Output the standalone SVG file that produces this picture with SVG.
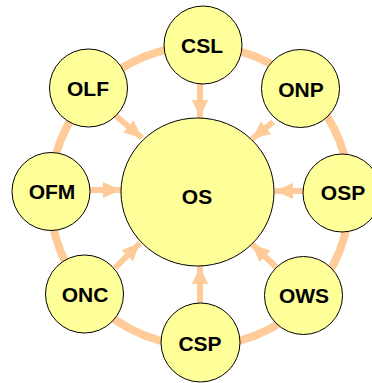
<svg xmlns="http://www.w3.org/2000/svg" width="372" height="383" viewBox="0 0 372 383">
<style>
.n{fill:#FFFF99;stroke:#000;stroke-width:1}
.t{font-family:"Liberation Sans",Arial,sans-serif;font-weight:bold;font-size:21px;text-anchor:middle;fill:#000}
.ring{fill:none;stroke:#FFCC99;stroke-width:8}
.a{stroke:#FFCC99;stroke-width:6;fill:none}
</style>
<defs>
<marker id="ah" markerUnits="userSpaceOnUse" markerWidth="20" markerHeight="16" refX="18" refY="8" orient="auto">
<polygon points="0,0 18,8 0,16" fill="#FFCC99"/>
</marker>
</defs>
<rect width="372" height="383" fill="#fff"/>
<circle class="ring" cx="200" cy="196" r="150"/>
<g id="connectors">
<line class="a" x1="200" y1="83" x2="200" y2="118" marker-end="url(#ah)"/>
<line class="a" x1="200" y1="304" x2="200" y2="266" marker-end="url(#ah)"/>
<line class="a" x1="89" y1="190" x2="121" y2="190" marker-end="url(#ah)"/>
<line class="a" x1="304" y1="191" x2="275" y2="191" marker-end="url(#ah)"/>
<line class="a" x1="115" y1="115" x2="142" y2="138" marker-end="url(#ah)"/>
<line class="a" x1="273" y1="122" x2="252" y2="139" marker-end="url(#ah)"/>
<line class="a" x1="115" y1="268" x2="140" y2="243" marker-end="url(#ah)"/>
<line class="a" x1="276" y1="267" x2="252" y2="244" marker-end="url(#ah)"/>
</g>
<g id="OS"><ellipse class="n" cx="197.5" cy="192" rx="76.5" ry="74"/><text class="t" x="197" y="204">OS</text></g>
<g id="CSL"><circle class="n" cx="203" cy="45" r="39"/><text class="t" x="202" y="53">CSL</text></g>
<g id="OLF"><circle class="n" cx="88.5" cy="88" r="39"/><text class="t" x="88" y="96">OLF</text></g>
<g id="ONP"><circle class="n" cx="300.5" cy="88.5" r="39"/><text class="t" x="301" y="97">ONP</text></g>
<g id="OFM"><circle class="n" cx="51" cy="191.5" r="39"/><text class="t" x="52" y="199">OFM</text></g>
<g id="OSP"><circle class="n" cx="342" cy="193" r="39"/><text class="t" x="343" y="200">OSP</text></g>
<g id="ONC"><circle class="n" cx="84.5" cy="294" r="39"/><text class="t" x="85" y="302">ONC</text></g>
<g id="OWS"><circle class="n" cx="303.5" cy="295.5" r="39"/><text class="t" x="304" y="303">OWS</text></g>
<g id="CSP"><circle class="n" cx="200.5" cy="342.5" r="39.5"/><text class="t" x="200" y="351">CSP</text></g>
</svg>
